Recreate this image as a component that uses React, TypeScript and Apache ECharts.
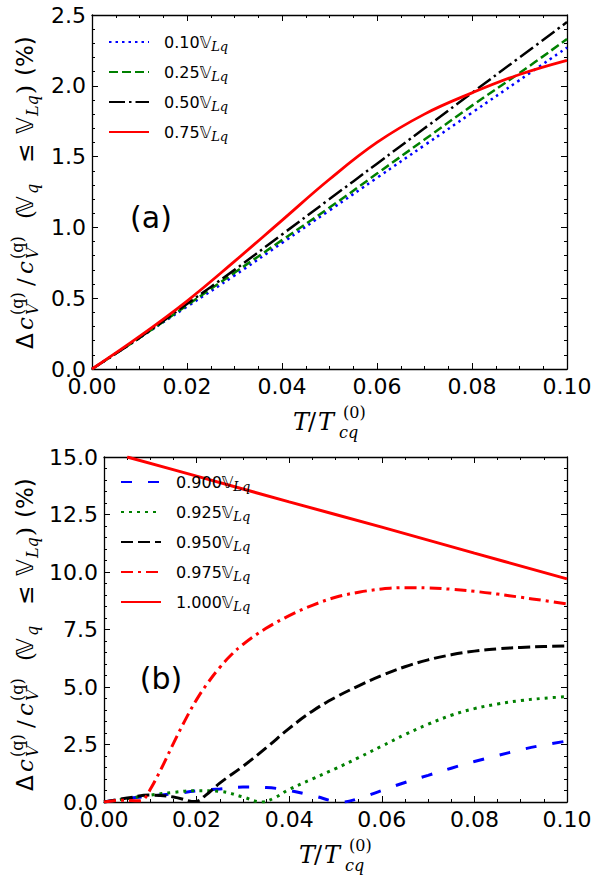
import React, { useEffect, useRef } from "react";
import * as echarts from "echarts";

// ---------------- data ----------------
const X_TICKS = ["0.00", "0.02", "0.04", "0.06", "0.08", "0.10"];
const Y_TICKS_A = ["0.0", "0.5", "1.0", "1.5", "2.0", "2.5"];
const Y_TICKS_B = ["0.0", "2.5", "5.0", "7.5", "10.0", "12.5", "15.0"];

const NAMES_A = ["0.10", "0.25", "0.50", "0.75"];
const NAMES_B = ["0.900", "0.925", "0.950", "0.975", "1.000"];

const X_A = [0, 0.01, 0.02, 0.03, 0.04, 0.05, 0.06, 0.07, 0.08, 0.09, 0.1];
const Y_A_010 = [0, 0.22, 0.44, 0.66, 0.89, 1.12, 1.35, 1.58, 1.81, 2.04, 2.27];
const Y_A_025 = [0, 0.22, 0.45, 0.68, 0.91, 1.14, 1.38, 1.62, 1.86, 2.09, 2.33];
const Y_A_050 = [0, 0.22, 0.46, 0.7, 0.95, 1.2, 1.45, 1.7, 1.95, 2.2, 2.45];
const Y_A_075 = [0, 0.23, 0.48, 0.76, 1.05, 1.34, 1.6, 1.8, 1.95, 2.08, 2.18];

const X_B_0900 = [0, 0.005, 0.01, 0.015, 0.02, 0.025, 0.03, 0.035, 0.04, 0.045, 0.0515, 0.055, 0.06, 0.065, 0.07, 0.075, 0.08, 0.085, 0.09, 0.095, 0.1];
const Y_B_0900 = [0, 0.15, 0.26, 0.36, 0.48, 0.57, 0.65, 0.63, 0.5, 0.28, 0, 0.15, 0.5, 0.85, 1.16, 1.47, 1.76, 2.02, 2.27, 2.48, 2.65];

const X_B_0925 = [0, 0.005, 0.01, 0.015, 0.02, 0.025, 0.03, 0.034, 0.037, 0.04, 0.045, 0.05, 0.055, 0.06, 0.065, 0.07, 0.075, 0.08, 0.085, 0.09, 0.095, 0.1];
const Y_B_0925 = [0, 0.15, 0.3, 0.42, 0.49, 0.46, 0.22, 0, 0.2, 0.55, 1.0, 1.45, 1.93, 2.43, 2.93, 3.38, 3.77, 4.06, 4.26, 4.41, 4.51, 4.58];

const X_B_0950 = [0, 0.005, 0.01, 0.015, 0.0197, 0.022, 0.025, 0.03, 0.035, 0.04, 0.045, 0.05, 0.055, 0.06, 0.065, 0.07, 0.075, 0.08, 0.085, 0.09, 0.095, 0.1];
const Y_B_0950 = [0, 0.17, 0.3, 0.22, 0.02, 0.3, 0.82, 1.55, 2.35, 3.2, 3.95, 4.55, 5.05, 5.5, 5.88, 6.18, 6.4, 6.56, 6.66, 6.72, 6.76, 6.78];

const X_B_0975 = [0, 0.004, 0.0075, 0.0085, 0.01, 0.0125, 0.015, 0.0175, 0.02, 0.0225, 0.025, 0.0275, 0.03, 0.035, 0.04, 0.045, 0.05, 0.055, 0.06, 0.065, 0.07, 0.075, 0.08, 0.085, 0.09, 0.095, 0.1];
const Y_B_0975 = [0, 0.08, 0.05, 0.1, 0.55, 1.5, 2.55, 3.55, 4.45, 5.2, 5.85, 6.4, 6.85, 7.55, 8.1, 8.55, 8.9, 9.12, 9.26, 9.32, 9.31, 9.25, 9.16, 9.04, 8.9, 8.76, 8.61];

const X_B_1000 = [0.005, 0.02, 0.04, 0.06, 0.08, 0.1];
const Y_B_1000 = [15.0, 14.17, 13.05, 11.95, 10.82, 9.7];

// ---------------- helpers ----------------
const SANS = '"DejaVu Sans"';
const SERIF = '"DejaVu Serif"';

const zip = (xs: number[], ys: number[]) => xs.map((x, i) => [x, ys[i]]);

function piece(text: string, x: number, base: number, fs: number, fam: string, italic = false) {
  return {
    type: "text",
    x,
    y: base - 0.36 * fs,
    style: {
      text,
      font: `${italic ? "italic " : ""}${fs}px ${fam}`,
      fill: "#000",
      textAlign: "left",
      textVerticalAlign: "middle",
      align: "left",
      verticalAlign: "middle",
    },
  };
}

function yLabel(x: number, yStart: number) {
  const f = 23;
  const s = 16;
  return {
    type: "group",
    x,
    y: yStart,
    rotation: Math.PI / 2,
    children: [
      piece("Δ", 0, 0, f, SANS),
      piece("c", 19, 0, f, SERIF, true),
      piece("(q)", 34, -10, s, SERIF),
      piece("V", 34, 5, s, SERIF, true),
      piece("/", 63, 0, f, SERIF),
      piece("c", 75, 0, f, SERIF, true),
      piece("(q)", 90, -10, s, SERIF),
      piece("V", 90, 5, s, SERIF, true),
      piece("(", 130, 0, f, SERIF),
      piece("𝕍", 136, 0, f, SANS),
      piece("q", 155, 5, s, SERIF, true),
      piece("≤", 186, 0, f, SANS),
      piece("𝕍", 215, 0, f, SANS),
      piece("Lq", 233, 5, s, SERIF, true),
      piece(")", 255, 0, f, SERIF),
      piece("(%)", 273, 0, f, SANS),
    ],
  };
}

function xLabel(cx: number, base: number) {
  const f = 24;
  const s = 16;
  return {
    type: "group",
    x: cx,
    y: base,
    children: [
      piece("T", -39, 0, f, SERIF, true),
      piece("/", -24, 0, f, SERIF),
      piece("T", -14, 0, f, SERIF, true),
      piece("cq", 7, 7, s, SERIF, true),
      piece("(0)", 11, -13, s, SERIF),
    ],
  };
}

const tickStyle = { color: "#000", width: 1 };

function xAxisDef(grid: number, pos: "top" | "bottom") {
  return {
    gridIndex: grid,
    type: "value",
    position: pos,
    min: 0,
    max: 0.1,
    interval: 0.02,
    axisLine: { show: true, onZero: false, lineStyle: { color: "#000", width: 1.3 } },
    axisTick: { show: true, inside: true, length: 6, lineStyle: tickStyle },
    minorTick: { show: true, splitNumber: 4, length: 3, lineStyle: tickStyle },
    splitLine: { show: false },
    minorSplitLine: { show: false },
    axisLabel: {
      show: pos === "bottom",
      color: "#000",
      fontSize: 22,
      fontFamily: SANS,
      margin: 6,
      formatter: (v: number) => X_TICKS[Math.round(v / 0.02)],
    },
  };
}

function yAxisDef(grid: number, pos: "left" | "right", max: number, interval: number, labels: string[]) {
  return {
    gridIndex: grid,
    type: "value",
    position: pos,
    min: 0,
    max,
    interval,
    axisLine: { show: true, onZero: false, lineStyle: { color: "#000", width: 1.3 } },
    axisTick: { show: true, inside: true, length: 6, lineStyle: tickStyle },
    minorTick: { show: true, splitNumber: 5, length: 3, lineStyle: tickStyle },
    splitLine: { show: false },
    minorSplitLine: { show: false },
    axisLabel: {
      show: pos === "left",
      color: "#000",
      fontSize: 22,
      fontFamily: SANS,
      margin: 6,
      formatter: (v: number) => labels[Math.round(v / interval)],
    },
  };
}

function lineSeries(name: string, data: number[][], color: string, dash: any, width: number, xi: number, yi: number) {
  return {
    type: "line",
    name,
    data,
    xAxisIndex: xi,
    yAxisIndex: yi,
    symbol: "none",
    showSymbol: false,
    smooth: 0.4,
    clip: true,
    lineStyle: { color, width, type: dash },
    itemStyle: { color },
    z: 3,
  };
}

const legendRich = {
  n: { fontSize: 16, fontFamily: SANS, color: "#000", padding: [0, 0, 0, 10] },
  v: { fontSize: 16, fontFamily: SANS, color: "#000" },
  s: { fontSize: 13, fontFamily: SERIF, fontStyle: "italic", color: "#000", verticalAlign: "bottom", lineHeight: 12 },
};

function legendDef(names: string[], left: number, top: number) {
  return {
    data: names,
    orient: "vertical",
    left,
    top,
    padding: 0,
    itemWidth: 40,
    itemHeight: 12,
    itemGap: 8,
    selectedMode: false,
    itemStyle: { opacity: 0, color: "transparent", borderWidth: 0 },
    formatter: (name: string) => `{n|${name}}{v|𝕍}{s|Lq}`,
    textStyle: { fontSize: 16, fontFamily: SANS, color: "#000", lineHeight: 22, rich: legendRich },
  };
}

export default function App() {
  const ref = useRef<HTMLDivElement>(null);
  useEffect(() => {
    document.body.style.margin = "0";
    if (!ref.current) return;
    const chart = echarts.init(ref.current, undefined, { renderer: "svg" });
    const option: any = {
      animation: false,
      backgroundColor: "#fff",
      grid: [
        { left: 92, top: 15, width: 475, height: 354 },
        { left: 104, top: 457, width: 463, height: 345 },
      ],
      xAxis: [xAxisDef(0, "bottom"), xAxisDef(0, "top"), xAxisDef(1, "bottom"), xAxisDef(1, "top")],
      yAxis: [
        yAxisDef(0, "left", 2.5, 0.5, Y_TICKS_A),
        yAxisDef(0, "right", 2.5, 0.5, Y_TICKS_A),
        yAxisDef(1, "left", 15, 2.5, Y_TICKS_B),
        yAxisDef(1, "right", 15, 2.5, Y_TICKS_B),
      ],
      legend: [legendDef(NAMES_A, 108, 31), legendDef(NAMES_B, 120, 471)],
      series: [
        lineSeries(NAMES_A[0], zip(X_A, Y_A_010), "#0000ff", [2.5, 4], 2.5, 0, 0),
        lineSeries(NAMES_A[1], zip(X_A, Y_A_025), "#008000", [9, 4], 2.5, 0, 0),
        lineSeries(NAMES_A[2], zip(X_A, Y_A_050), "#000000", [16, 4, 2.5, 4], 2.5, 0, 0),
        lineSeries(NAMES_A[3], zip(X_A, Y_A_075), "#ff0000", "solid", 2.8, 0, 0),
        lineSeries(NAMES_B[0], zip(X_B_0900, Y_B_0900), "#0000ff", [11, 16], 3, 2, 2),
        lineSeries(NAMES_B[1], zip(X_B_0925, Y_B_0925), "#008000", [3, 5], 3, 2, 2),
        lineSeries(NAMES_B[2], zip(X_B_0950, Y_B_0950), "#000000", [12, 5], 3, 2, 2),
        lineSeries(NAMES_B[3], zip(X_B_0975, Y_B_0975), "#ff0000", [12, 5, 3, 5], 3, 2, 2),
        lineSeries(NAMES_B[4], zip(X_B_1000, Y_B_1000), "#ff0000", "solid", 3, 2, 2),
      ],
      graphic: [
        yLabel(33, 349),
        yLabel(33, 791),
        xLabel(332, 431),
        xLabel(338, 864),
        { type: "text", x: 151, y: 217, style: { text: "(a)", font: `30px ${SANS}`, fill: "#000", textAlign: "center", textVerticalAlign: "middle", align: "center", verticalAlign: "middle" } },
        { type: "text", x: 161, y: 678, style: { text: "(b)", font: `30px ${SANS}`, fill: "#000", textAlign: "center", textVerticalAlign: "middle", align: "center", verticalAlign: "middle" } },
      ],
    };
    chart.setOption(option);
    return () => chart.dispose();
  }, []);
  return <div ref={ref} style={{ width: 599, height: 875 }} />;
}
